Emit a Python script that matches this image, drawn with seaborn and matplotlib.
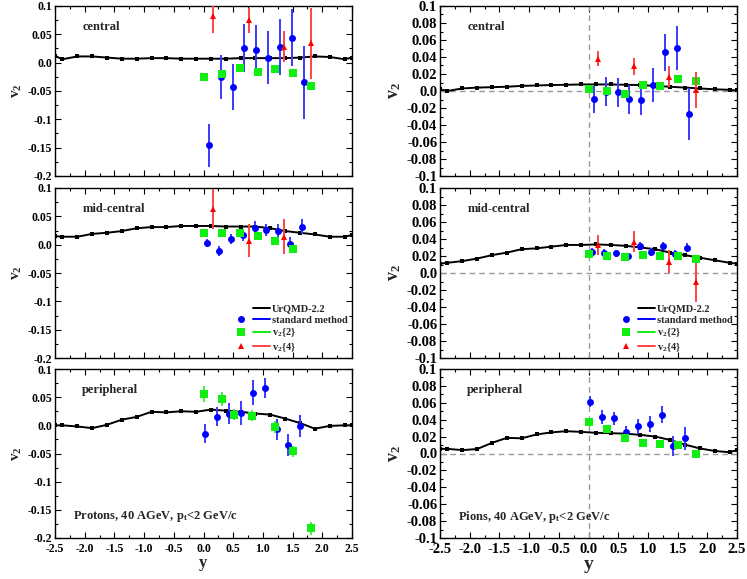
import numpy as np
import pandas as pd
import matplotlib
matplotlib.use("Agg")
import matplotlib.pyplot as plt
import seaborn as sns
from matplotlib.lines import Line2D
from matplotlib.legend_handler import HandlerTuple
from matplotlib.ticker import MultipleLocator

# ---------------- data ----------------
urq_x = [-2.5, -2.375, -2.125, -1.875, -1.625, -1.375, -1.125, -0.875, -0.625, -0.375, -0.125,
         0.125, 0.375, 0.625, 0.875, 1.125, 1.375, 1.625, 1.875, 2.125, 2.375, 2.5]

# protons
p_cen_urq = [0.012, 0.006, 0.011, 0.011, 0.009, 0.007, 0.007, 0.008, 0.008, 0.007, 0.007,
             0.007, 0.007, 0.008, 0.008, 0.008, 0.008, 0.009, 0.011, 0.010, 0.006, 0.009]
p_mid_urq = [0.015, 0.014, 0.014, 0.019, 0.021, 0.024, 0.029, 0.031, 0.031, 0.033, 0.033,
             0.033, 0.032, 0.032, 0.032, 0.029, 0.024, 0.021, 0.018, 0.014, 0.014, 0.017]
p_per_urq = [0.000, 0.000, -0.002, -0.005, 0.001, 0.010, 0.015, 0.024, 0.023, 0.025, 0.024,
             0.028, 0.026, 0.024, 0.021, 0.019, 0.012, 0.004, -0.006, -0.001, 0.000, 0.000]

p_cen_std_x = [0.09, 0.29, 0.49, 0.69, 0.89, 1.09, 1.29, 1.49, 1.69]
p_cen_std_y = [-0.146, -0.025, -0.043, 0.026, 0.022, 0.009, 0.028, 0.044, -0.035]
p_cen_std_e = [0.038, 0.039, 0.041, 0.042, 0.044, 0.046, 0.049, 0.050, 0.065]
p_cen_v22_x = [0.01, 0.31, 0.61, 0.91, 1.21, 1.51, 1.81]
p_cen_v22_y = [-0.025, -0.020, -0.009, -0.017, -0.011, -0.019, -0.041]
p_cen_v22_e = [0.005, 0.004, 0.003, 0.003, 0.003, 0.004, 0.006]
p_cen_v24_x = [0.16, 0.76, 1.36, 1.81]
p_cen_v24_y = [0.083, 0.075, 0.028, 0.034]
p_cen_v24_e = [0.030, 0.022, 0.027, 0.063]

p_mid_std_x = [0.06, 0.26, 0.46, 0.66, 0.86, 1.06, 1.26, 1.46, 1.66]
p_mid_std_y = [0.003, -0.011, 0.010, 0.017, 0.030, 0.026, 0.025, 0.001, 0.032]
p_mid_std_e = [0.007, 0.009, 0.009, 0.011, 0.012, 0.011, 0.012, 0.013, 0.014]
p_mid_v22_x = [0.01, 0.31, 0.61, 0.91, 1.21, 1.51]
p_mid_v22_y = [0.021, 0.020, 0.021, 0.016, 0.007, -0.007]
p_mid_v22_e = [0.003, 0.003, 0.003, 0.003, 0.003, 0.003]
p_mid_v24_x = [0.16, 0.76, 1.36]
p_mid_v24_y = [0.063, 0.007, 0.014]
p_mid_v24_e = [0.036, 0.029, 0.031]

p_per_std_x = [0.03, 0.23, 0.43, 0.63, 0.83, 1.03, 1.23, 1.43, 1.63]
p_per_std_y = [-0.015, 0.015, 0.021, 0.022, 0.058, 0.066, -0.007, -0.035, -0.001]
p_per_std_e = [0.017, 0.017, 0.019, 0.021, 0.022, 0.018, 0.019, 0.020, 0.020]
p_per_v22_x = [0.01, 0.31, 0.51, 0.81, 1.21, 1.51, 1.81]
p_per_v22_y = [0.056, 0.047, 0.019, 0.017, -0.003, -0.046, -0.183]
p_per_v22_e = [0.014, 0.012, 0.010, 0.010, 0.010, 0.010, 0.012]

# pions
pi_cen_urq = [0.002, 0.000, 0.003, 0.004, 0.0045, 0.005, 0.006, 0.0065, 0.007, 0.0073, 0.0077,
              0.0077, 0.0077, 0.0073, 0.007, 0.006, 0.005, 0.004, 0.003, 0.002, 0.0014, 0.0006]
pi_mid_urq = [0.011, 0.012, 0.014, 0.017, 0.021, 0.024, 0.028, 0.029, 0.031, 0.033, 0.033,
              0.0336, 0.033, 0.032, 0.030, 0.028, 0.024, 0.021, 0.018, 0.015, 0.012, 0.011]
pi_per_urq = [0.0055, 0.0055, 0.004, 0.0053, 0.0126, 0.0185, 0.018, 0.0225, 0.025, 0.0264, 0.0256,
              0.0245, 0.024, 0.0235, 0.022, 0.020, 0.016, 0.0105, 0.006, 0.003, 0.0015, 0.004]

pi_cen_std_x = [0.09, 0.29, 0.49, 0.69, 0.89, 1.09, 1.29, 1.49, 1.69]
pi_cen_std_y = [-0.0097, -0.001, -0.0014, -0.0097, -0.010, 0.0065, 0.0456, 0.051, -0.027]
pi_cen_std_e = [0.016, 0.017, 0.017, 0.017, 0.018, 0.020, 0.022, 0.026, 0.031]
pi_cen_v22_x = [0.01, 0.31, 0.61, 0.91, 1.21, 1.51, 1.81]
pi_cen_v22_y = [0.002, 0.000, -0.003, 0.007, 0.006, 0.014, 0.012]
pi_cen_v22_e = [0.002, 0.002, 0.002, 0.002, 0.002, 0.002, 0.002]
pi_cen_v24_x = [0.16, 0.76, 1.36, 1.81]
pi_cen_v24_y = [0.038, 0.029, 0.017, 0.001]
pi_cen_v24_e = [0.009, 0.010, 0.012, 0.021]

pi_mid_std_x = [0.06, 0.26, 0.46, 0.66, 0.86, 1.06, 1.26, 1.46, 1.66]
pi_mid_std_y = [0.025, 0.024, 0.023, 0.020, 0.032, 0.025, 0.032, 0.022, 0.030]
pi_mid_std_e = [0.004, 0.004, 0.004, 0.004, 0.005, 0.005, 0.005, 0.005, 0.0055]
pi_mid_v22_x = [0.01, 0.31, 0.61, 0.91, 1.21, 1.51, 1.81]
pi_mid_v22_y = [0.022, 0.0204, 0.0184, 0.0208, 0.0196, 0.0196, 0.0168]
pi_mid_v22_e = [0.002, 0.002, 0.002, 0.002, 0.002, 0.002, 0.002]
pi_mid_v24_x = [0.16, 0.76, 1.36, 1.81]
pi_mid_v24_y = [0.033, 0.037, 0.013, -0.011]
pi_mid_v24_e = [0.012, 0.012, 0.0135, 0.023]

pi_per_std_x = [0.03, 0.23, 0.43, 0.63, 0.83, 1.03, 1.23, 1.43, 1.63]
pi_per_std_y = [0.0615, 0.043, 0.0415, 0.026, 0.032, 0.035, 0.046, 0.0092, 0.018]
pi_per_std_e = [0.007, 0.008, 0.0076, 0.007, 0.009, 0.009, 0.010, 0.0116, 0.0134]
pi_per_v22_x = [0.01, 0.31, 0.61, 0.91, 1.21, 1.51, 1.81]
pi_per_v22_y = [0.037, 0.029, 0.018, 0.013, 0.011, 0.010, 0.000]
pi_per_v22_e = [0.0025, 0.0025, 0.0025, 0.0025, 0.0025, 0.0025, 0.0025]

x_ticks = [-2.5, -2.0, -1.5, -1.0, -0.5, 0.0, 0.5, 1.0, 1.5, 2.0, 2.5]
x_tick_labels = ["-2.5", "-2.0", "-1.5", "-1.0", "-0.5", "0.0", "0.5", "1.0", "1.5", "2.0", "2.5"]
p_y_ticks = [0.1, 0.05, 0.0, -0.05, -0.1, -0.15, -0.2]
p_y_tick_labels = ["0.1", "0.05", "0.0", "-0.05", "-0.1", "-0.15", "-0.2"]
pi_y_ticks = [0.1, 0.08, 0.06, 0.04, 0.02, 0.0, -0.02, -0.04, -0.06, -0.08, -0.1]
pi_y_tick_labels = ["0.1", "0.08", "0.06", "0.04", "0.02", "0.0", "-0.02", "-0.04", "-0.06", "-0.08", "-0.1"]
panel_names = ["central", "mid-central", "peripheral"]
legend_labels = ["UrQMD-2.2", "standard method", "v$_2${2}", "v$_2${4}"]

# ---------------- style ----------------
sns.set_theme(style="ticks")
plt.rcParams["font.family"] = ["Liberation Serif", "DejaVu Serif"]
plt.rcParams["font.weight"] = "bold"
plt.rcParams["mathtext.fontset"] = "custom"
plt.rcParams["mathtext.rm"] = "Liberation Serif:bold"
plt.rcParams["mathtext.it"] = "Liberation Serif:italic:bold"
plt.rcParams["mathtext.bf"] = "Liberation Serif:bold"
plt.rcParams["axes.edgecolor"] = "black"
plt.rcParams["axes.linewidth"] = 1.0
plt.rcParams["xtick.color"] = "black"
plt.rcParams["ytick.color"] = "black"

BLUE = "#0000ff"
BLUE_E = "#3a3aff"
GREEN = "#11ee11"
GREEN_E = "#44ee44"
RED = "#ff0000"
RED_E = "#ff4444"

fig = plt.figure(figsize=(7.47, 5.79), dpi=100)
W, H = 747.0, 579.0
col_x = [(55, 352), (440, 737)]
row_y = [(6, 176), (188, 358), (369, 538)]

protons = [
    dict(urq=p_cen_urq, std=(p_cen_std_x, p_cen_std_y, p_cen_std_e), v22=(p_cen_v22_x, p_cen_v22_y, p_cen_v22_e),
         v24=(p_cen_v24_x, p_cen_v24_y, p_cen_v24_e)),
    dict(urq=p_mid_urq, std=(p_mid_std_x, p_mid_std_y, p_mid_std_e), v22=(p_mid_v22_x, p_mid_v22_y, p_mid_v22_e),
         v24=(p_mid_v24_x, p_mid_v24_y, p_mid_v24_e)),
    dict(urq=p_per_urq, std=(p_per_std_x, p_per_std_y, p_per_std_e), v22=(p_per_v22_x, p_per_v22_y, p_per_v22_e),
         v24=None),
]
pions = [
    dict(urq=pi_cen_urq, std=(pi_cen_std_x, pi_cen_std_y, pi_cen_std_e), v22=(pi_cen_v22_x, pi_cen_v22_y, pi_cen_v22_e),
         v24=(pi_cen_v24_x, pi_cen_v24_y, pi_cen_v24_e)),
    dict(urq=pi_mid_urq, std=(pi_mid_std_x, pi_mid_std_y, pi_mid_std_e), v22=(pi_mid_v22_x, pi_mid_v22_y, pi_mid_v22_e),
         v24=(pi_mid_v24_x, pi_mid_v24_y, pi_mid_v24_e)),
    dict(urq=pi_per_urq, std=(pi_per_std_x, pi_per_std_y, pi_per_std_e), v22=(pi_per_v22_x, pi_per_v22_y, pi_per_v22_e),
         v24=None),
]

for c, (species, yt, ytl, ylim, ymin, fs_tick, fs_ylab, fs_xlab, bottom_text) in enumerate([
        (protons, p_y_ticks, p_y_tick_labels, (-0.2, 0.1), 0.025, 8.5, 11, 12,
         "Protons, 40 AGeV, p$_{\\rm t}$<2 GeV/c"),
        (pions, pi_y_ticks, pi_y_tick_labels, (-0.1, 0.1), 0.01, 10.5, 13, 14,
         "Pions, 40 AGeV, p$_{\\rm t}$<2 GeV/c")]):
    x0, x1 = col_x[c]
    for r in range(3):
        y0, y1 = row_y[r]
        ax = fig.add_axes([x0 / W, 1 - y1 / H, (x1 - x0) / W, (y1 - y0) / H])
        d = species[r]

        if c == 1:
            ax.axvline(0, color="#999999", lw=1.0, ls=(0, (4, 3)), zorder=1)
            ax.axhline(0, color="#999999", lw=1.0, ls=(0, (4, 3)), zorder=1)

        df = pd.DataFrame({"y": urq_x, "v2": d["urq"]})
        sns.lineplot(data=df, x="y", y="v2", ax=ax, color="black", lw=1.4, marker="s",
                     markersize=2.5, markeredgewidth=0, estimator=None, sort=False, zorder=3)

        sx, sy, se = d["std"]
        ax.errorbar(sx, sy, yerr=se, fmt="o", color=BLUE, ecolor=BLUE_E, ms=5, mew=0,
                    elinewidth=1.4, capsize=2, capthick=1.0, zorder=4)
        gx, gy, ge = d["v22"]
        ax.errorbar(gx, gy, yerr=ge, fmt="s", color=GREEN, ecolor=GREEN_E, ms=5.5, mew=0,
                    elinewidth=1.4, capsize=2, capthick=1.0, zorder=5)
        if d["v24"] is not None:
            tx, ty, te = d["v24"]
            ax.errorbar(tx, ty, yerr=te, fmt="^", color=RED, ecolor=RED_E, ms=4.5, mew=0,
                        elinewidth=1.4, capsize=2, capthick=1.0, zorder=6)

        ax.set_xlim(-2.5, 2.5)
        ax.set_ylim(*ylim)
        ax.set_xticks(x_ticks)
        ax.xaxis.set_minor_locator(MultipleLocator(0.25))
        ax.set_yticks(yt)
        ax.set_yticklabels(ytl, fontsize=fs_tick)
        ax.yaxis.set_minor_locator(MultipleLocator(ymin))
        ax.tick_params(which="both", direction="in", top=True, right=True, width=0.8)
        ax.tick_params(axis="y", pad=2)
        ax.tick_params(axis="x", pad=3.5)
        ax.tick_params(which="major", length=4)
        ax.tick_params(which="minor", length=2.5)
        if r == 2:
            ax.set_xticklabels(x_tick_labels, fontsize=fs_tick)
            ax.set_xlabel("y", fontsize=fs_xlab, fontweight="bold", labelpad=0)
            ax.text(0.062, 0.126, bottom_text, transform=ax.transAxes, fontsize=9,
                    fontweight="bold", va="center", ha="left")
        else:
            ax.set_xticklabels([])
            ax.set_xlabel("")
        ax.set_ylabel("v$_2$", fontsize=fs_ylab, fontweight="bold", labelpad=3)
        ax.text(0.092, 0.876, panel_names[r], transform=ax.transAxes, fontsize=9,
                fontweight="bold", va="center", ha="left")

        if r == 1:
            handles = [
                (Line2D([], [], ls="none"), Line2D([], [], color="black", lw=1.4)),
                (Line2D([], [], ls="none", marker="o", color=BLUE, ms=5, mew=0), Line2D([], [], color=BLUE, lw=1.4)),
                (Line2D([], [], ls="none", marker="s", color=GREEN, ms=5.5, mew=0), Line2D([], [], color=GREEN, lw=1.4)),
                (Line2D([], [], ls="none", marker="^", color=RED, ms=4.5, mew=0), Line2D([], [], color=RED_E, lw=1.4)),
            ]
            ax.legend(handles, legend_labels, handler_map={tuple: HandlerTuple(ndivide=None, pad=0.4)},
                      loc="lower right", frameon=False, fontsize=7.5, handlelength=3.6,
                      handletextpad=0.2, labelspacing=0.2, borderaxespad=0.2, borderpad=0.2)

fig.savefig("out.png", dpi=100)
